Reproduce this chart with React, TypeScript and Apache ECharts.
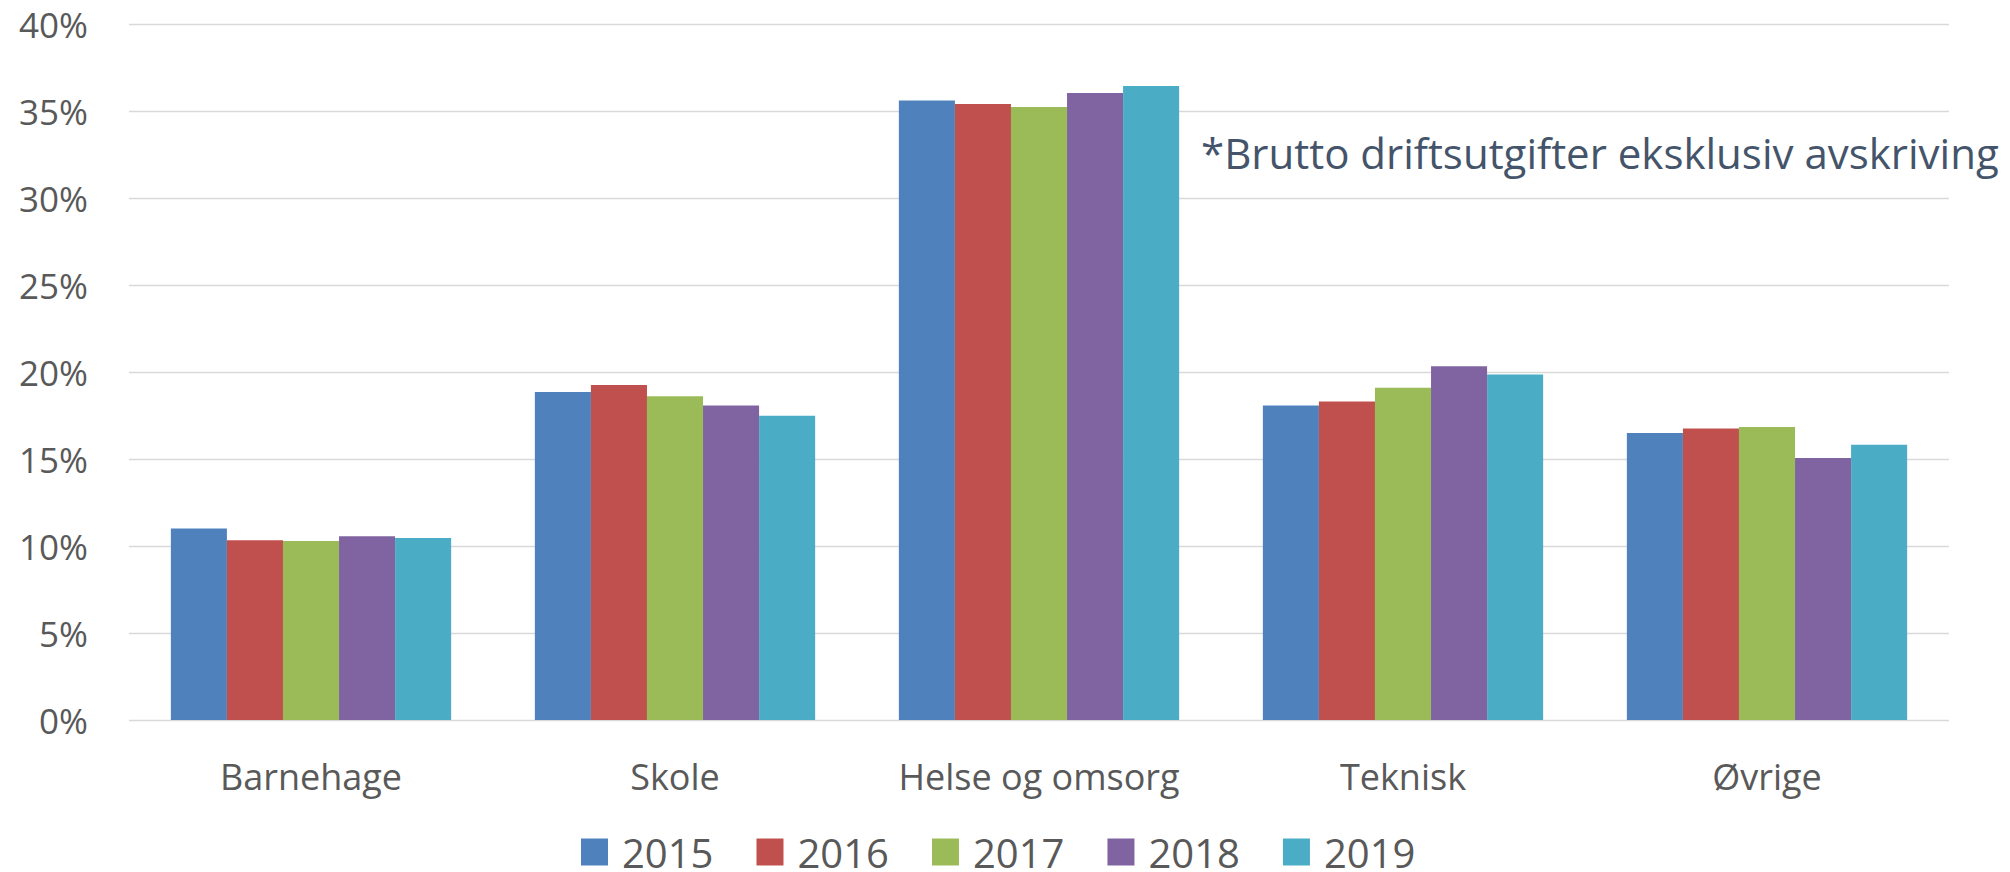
import React, { useEffect, useRef } from "react";
import * as echarts from "echarts";

const categories = ["Barnehage", "Skole", "Helse og omsorg", "Teknisk", "Øvrige"];
const years = ["2015", "2016", "2017", "2018", "2019"];
const values2015 = [11.0, 18.85, 35.6, 18.07, 16.5];
const values2016 = [10.33, 19.25, 35.4, 18.3, 16.76];
const values2017 = [10.29, 18.6, 35.23, 19.1, 16.84];
const values2018 = [10.56, 18.08, 36.03, 20.33, 15.06];
const values2019 = [10.46, 17.49, 36.44, 19.85, 15.82];
const seriesValues = [values2015, values2016, values2017, values2018, values2019];
const colors = ["#4F81BD", "#C0504D", "#9BBB59", "#8064A2", "#4BACC6"];
const note = "*Brutto driftsutgifter eksklusiv avskriving";

const FONT = "'Open Sans', 'Liberation Sans', sans-serif";

export default function App() {
  const ref = useRef<HTMLDivElement>(null);
  useEffect(() => {
    if (!ref.current) return;
    const chart = echarts.init(ref.current, undefined, { renderer: "svg" });
    chart.setOption({
      animation: false,
      backgroundColor: "#ffffff",
      grid: { left: 129, right: 61, top: 24, bottom: 152, containLabel: false },
      legend: {
        data: years,
        left: 576,
        top: 827,
        itemWidth: 27,
        itemHeight: 27,
        itemGap: 43,
        icon: "rect",
        textStyle: {
          fontFamily: FONT,
          fontSize: 40,
          color: "#595959",
          padding: [0, 0, 0, 9],
        },
      },
      xAxis: {
        type: "category",
        data: categories,
        axisLine: { show: false },
        axisTick: { show: false },
        axisLabel: {
          interval: 0,
          fontFamily: FONT,
          fontSize: 36,
          color: "#595959",
          margin: 38,
        },
      },
      yAxis: {
        type: "value",
        min: 0,
        max: 40,
        interval: 5,
        axisLine: { show: false },
        axisTick: { show: false },
        splitLine: { lineStyle: { color: "#D9D9D9", width: 1.3 } },
        axisLabel: {
          formatter: "{value}%",
          fontFamily: FONT,
          fontSize: 35,
          color: "#595959",
          margin: 41,
        },
      },
      series: years.map((y, i) => ({
        name: y,
        type: "bar",
        data: seriesValues[i],
        barGap: "0%",
        barCategoryGap: "23%",
        itemStyle: { color: colors[i] },
      })),
      graphic: [
        {
          type: "text",
          left: 1201,
          top: 131,
          style: {
            text: note,
            fontFamily: FONT,
            fontSize: 42,
            fill: "#44546A",
          },
        },
      ],
    });
    return () => chart.dispose();
  }, []);
  return <div ref={ref} style={{ width: 2010, height: 872, position: "absolute", left: 0, top: 0 }} />;
}
